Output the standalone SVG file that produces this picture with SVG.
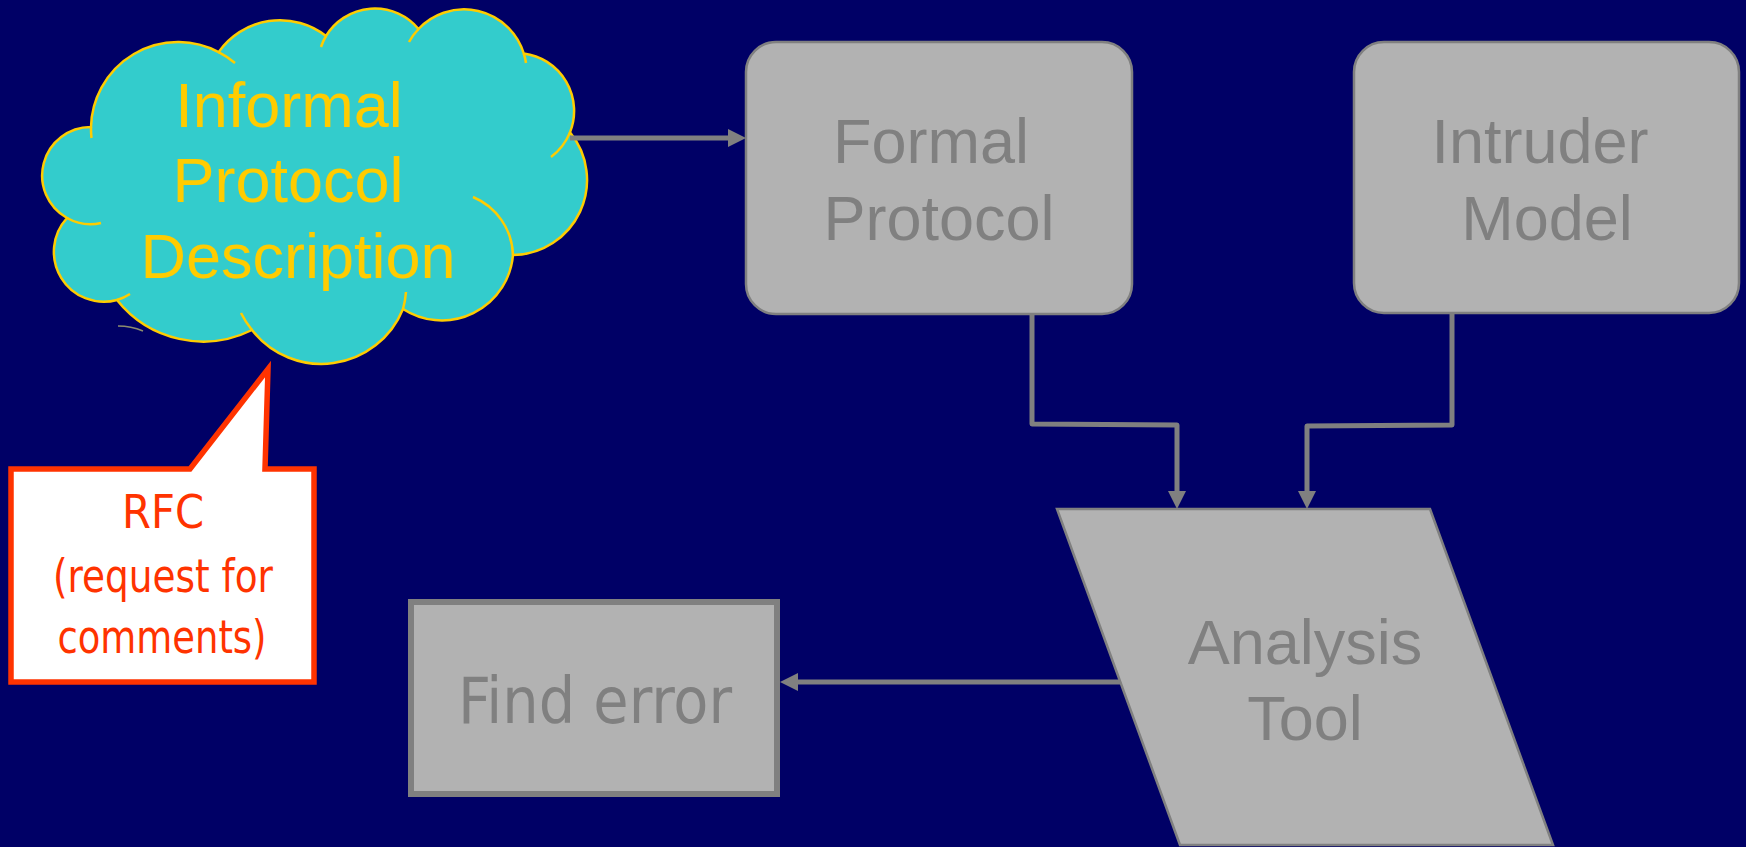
<svg xmlns="http://www.w3.org/2000/svg" width="1746" height="847" viewBox="0 0 1746 847">
  <style>
    .box { fill: #B2B2B2; stroke: #808080; stroke-width: 2.5; }
    .lbl { font-family: "Liberation Sans", Arial, sans-serif; font-size: 63px; fill: #808080; text-anchor: middle; }
    .cloudtxt { font-family: "Liberation Sans", Arial, sans-serif; font-size: 63px; fill: #FFCC00; text-anchor: middle; }
    .tah { font-family: "DejaVu Sans Condensed", "DejaVu Sans", sans-serif; text-anchor: middle; }
    .conn { fill: none; stroke: #808080; stroke-width: 5; stroke-linejoin: round; marker-end: url(#arr); }
    .cloud { fill: #33CCCC; stroke: #FFCC00; stroke-width: 2.5; }
    .tail { fill: none; stroke: #FFCC00; stroke-width: 2.5; }
  </style>
  <defs>
    <marker id="arr" markerUnits="userSpaceOnUse" markerWidth="20" markerHeight="20" refX="2" refY="9" orient="auto">
      <path d="M0,0 L18,9 L0,18 Z" fill="#808080"/>
    </marker>
  </defs>
  <rect x="0" y="0" width="1746" height="847" fill="#000066"/>

  <g id="cloud">
    <path class="cloud" d="M91,127 A87 87 0 0 1 218.6,52.1 A75 75 0 0 1 326,36 A57 57 0 0 1 418.5,29 A62.5 62.5 0 0 1 523.8,53.5 A58 58 0 0 1 570,132.4 A75 75 0 0 1 513,255 A71.5 71.5 0 0 1 403,309 A88 88 0 0 1 252,330 A110 110 0 0 1 117,300 A50 50 0 0 1 67,218 A48.6 48.6 0 0 1 91,127 Z"/>
    <path class="tail" d="M91.5,138 A87 87 0 0 1 91,127 M218.6,52.1 A87 87 0 0 1 235,63 M321,47 A57 57 0 0 1 326,36 M409,42 A62.5 62.5 0 0 1 418.5,29 M523.8,53.5 A62.5 62.5 0 0 1 526,63 M570,132.4 A58 58 0 0 1 551,157 M473,197 A65 65 0 0 1 513,255 M406,292 A88 88 0 0 1 403,309 M252,330 A88 88 0 0 1 241,313 M130,294 A50 50 0 0 1 117,300 M101,223 A48.6 48.6 0 0 1 67,218"/>
    <path d="M118,326 Q131,326 143,331" fill="none" stroke="#8C8C6E" stroke-width="1.5"/>
    <text class="cloudtxt" x="289" y="127">Informal</text>
    <text class="cloudtxt" x="288" y="202">Protocol</text>
    <text class="cloudtxt" x="298" y="278">Description</text>
  </g>

  <g id="rfc-callout">
    <path d="M11,469 L190,469 L268,369 L265,469 L314,469 L314,682 L11,682 Z" fill="#FFFFFF" stroke="#FF3300" stroke-width="5.5" stroke-linejoin="miter"/>
    <text class="tah" x="163" y="528" font-size="47" fill="#FF3300" textLength="82" lengthAdjust="spacingAndGlyphs">RFC</text>
    <text class="tah" x="163" y="592" font-size="47" fill="#FF3300" textLength="220" lengthAdjust="spacingAndGlyphs">(request for</text>
    <text class="tah" x="162" y="653" font-size="47" fill="#FF3300" textLength="209" lengthAdjust="spacingAndGlyphs">comments)</text>
  </g>

  <g id="formal-protocol">
    <rect class="box" x="746" y="42" width="386" height="272" rx="30" ry="30"/>
    <text class="lbl" x="931" y="163">Formal</text>
    <text class="lbl" x="939" y="240">Protocol</text>
  </g>

  <g id="intruder-model">
    <rect class="box" x="1354" y="42" width="385" height="271" rx="30" ry="30"/>
    <text class="lbl" x="1540" y="163">Intruder</text>
    <text class="lbl" x="1547" y="240">Model</text>
  </g>

  <g id="analysis-tool">
    <polygon class="box" points="1057,509 1430,509 1553,845 1180,845"/>
    <text class="lbl" x="1305" y="664">Analysis</text>
    <text class="lbl" x="1305" y="740">Tool</text>
  </g>

  <g id="find-error">
    <rect x="411" y="602" width="366" height="192" fill="#B2B2B2" stroke="#808080" stroke-width="6"/>
    <text class="tah" x="595" y="723" font-size="64" fill="#808080" textLength="274" lengthAdjust="spacingAndGlyphs">Find error</text>
  </g>

  <g id="connectors">
    <path class="conn" d="M570,138 L730,138"/>
    <path class="conn" d="M1032,313 L1032,424 L1177,425 L1177,493"/>
    <path class="conn" d="M1452,313 L1452,425 L1307,426 L1307,493"/>
    <path class="conn" d="M1120,682 L796,682"/>
  </g>
</svg>
